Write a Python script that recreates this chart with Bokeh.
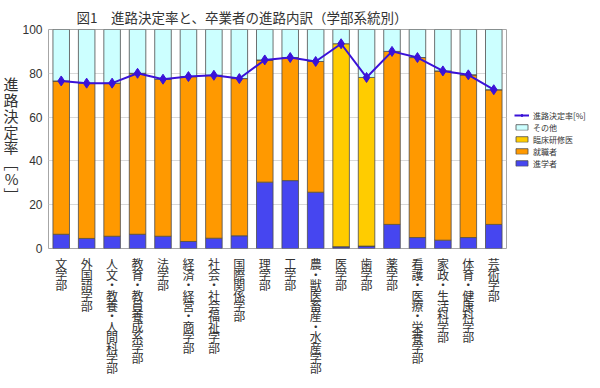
from bokeh.plotting import figure
from bokeh.models import ColumnDataSource, Legend, LegendItem, Title, FactorRange, Range1d
from bokeh.layouts import column
from bokeh.embed import file_html
from bokeh.resources import INLINE

departments = ["文学部", "外国語学部", "人文・教養・人間科学部", "教育・教員養成系学部", "法学部",
               "経済・経営・商学部", "社会・社会福祉学部", "国際関係学部", "理学部", "工学部",
               "農・獣医畜産・水産学部", "医学部", "歯学部", "薬学部", "看護・医療・栄養学部",
               "家政・生活科学部", "体育・健康科学部", "芸術学部"]
shingaku = [6.5, 4.6, 5.6, 6.5, 5.6, 3.2, 4.7, 5.8, 30.3, 31.0, 25.7, 0.8, 1.1, 11.0, 5.0, 3.8, 5.0, 11.0]
shushoku = [70.0, 70.9, 69.9, 73.5, 71.7, 75.3, 74.4, 71.8, 55.8, 56.2, 59.7, 0.0, 0.0, 79.0, 82.2, 77.3, 74.3, 61.5]
rinsho = [0, 0, 0, 0, 0, 0, 0, 0, 0, 0, 0, 92.7, 77.0, 0, 0, 0, 0, 0]
sonota = [23.5, 24.5, 24.5, 20.0, 22.7, 21.5, 20.9, 22.4, 13.9, 12.8, 14.6, 6.5, 21.9, 10.0, 12.8, 18.9, 20.7, 27.5]
kettei = [76.5, 75.5, 75.5, 80.0, 77.3, 78.5, 79.1, 77.6, 86.1, 87.2, 85.4, 93.5, 78.1, 90.0, 87.2, 81.1, 79.3, 72.5]
y_ticks = [0, 20, 40, 60, 80, 100]

stack_names = ["進学者", "就職者", "臨床研修医", "その他"]
stack_colors = ["#4646F0", "#FF9900", "#FFCC00", "#CCFFFF"]

src = ColumnDataSource(dict(x=departments, 進学者=shingaku, 就職者=shushoku,
                            臨床研修医=rinsho, その他=sonota, rate=kettei))

# one character per row for the vertical (tategaki) category labels
lab_x, lab_row, lab_ch = [], [], []
for d in departments:
    for i, ch in enumerate(d):
        lab_x.append(d)
        lab_row.append(-i)
        lab_ch.append(ch)
lab_src = ColumnDataSource(dict(x=lab_x, row=lab_row, ch=lab_ch))

CJK = "Noto Sans CJK JP"
LEFT = 42
FW = 458
xr = FactorRange(*departments, range_padding=0)

p = figure(frame_width=FW, frame_height=219, output_backend="svg", toolbar_location=None,
           x_range=xr, y_range=Range1d(0, 100),
           min_border_left=LEFT, min_border_right=0, min_border_top=29, min_border_bottom=7,
           title=None)
p.background_fill_color = "white"
p.border_fill_color = "white"
p.outline_line_color = "#a6a6a6"

bars = p.vbar_stack(stack_names, x="x", width=0.65, color=stack_colors, source=src,
                    line_color="#4d4d4d", line_width=0.8)
line_r = p.line(x="x", y="rate", source=src, line_color="#3A12D8", line_width=2)
scat_r = p.scatter(x="x", y="rate", source=src, marker="diamond", size=10,
                   fill_color="#3A12D8", line_color="#3A12D8")

p.xgrid.grid_line_color = None
p.ygrid.grid_line_color = "#d9d9d9"
p.xaxis.visible = False
p.yaxis.ticker = y_ticks
p.yaxis.axis_line_color = None
p.yaxis.major_tick_line_color = None
p.yaxis.major_tick_out = 0
p.yaxis.minor_tick_line_color = None
p.yaxis.major_label_text_font = "Liberation Sans"
p.yaxis.major_label_text_font_size = "12px"
p.yaxis.major_label_text_color = "#333333"
p.yaxis.major_label_standoff = 6
p.yaxis.axis_label = "\n".join(list("進路決定率") + ["﹇", "%", "﹈"])
p.yaxis.axis_label_orientation = "horizontal"
p.yaxis.axis_label_text_font = CJK
p.yaxis.axis_label_text_font_size = "15px"
p.yaxis.axis_label_text_font_style = "normal"
p.yaxis.axis_label_text_color = "#333333"
p.yaxis.axis_label_text_line_height = 0.76
p.yaxis.axis_label_standoff = 1

title = Title(text="図1　進路決定率と、卒業者の進路内訳（学部系統別）", align="left", offset=28,
              vertical_align="top", text_font=CJK, text_font_size="13.5px",
              text_font_style="normal", text_color="#333333", standoff=2)
p.add_layout(title, "above")

items = [LegendItem(label="進路決定率[%]", renderers=[line_r, scat_r]),
         LegendItem(label="その他", renderers=[bars[3]]),
         LegendItem(label="臨床研修医", renderers=[bars[2]]),
         LegendItem(label="就職者", renderers=[bars[1]]),
         LegendItem(label="進学者", renderers=[bars[0]])]
legend = Legend(items=items, location="center_left", label_text_font=CJK, label_text_font_size="8px",
                label_text_color="#333333", glyph_width=15, glyph_height=7, label_height=8,
                label_standoff=4, spacing=1, padding=4, margin=8, border_line_color=None,
                background_fill_alpha=0)
p.add_layout(legend, "right")

q = figure(frame_width=FW, frame_height=122, output_backend="svg", toolbar_location=None,
           x_range=xr, y_range=Range1d(-10.914, 0.817),
           min_border_left=LEFT, min_border_right=0, min_border_top=0, min_border_bottom=0)
q.outline_line_color = None
q.background_fill_color = "white"
q.border_fill_color = "white"
q.xaxis.visible = False
q.yaxis.visible = False
q.grid.grid_line_color = None
q.text(x="x", y="row", text="ch", source=lab_src, text_align="center", text_baseline="middle",
       text_font={"value": CJK}, text_font_size={"value": "12px"}, text_color="#333333")

layout = column(p, q, spacing=0)
open("out.html", "w").write(file_html(layout, INLINE))
